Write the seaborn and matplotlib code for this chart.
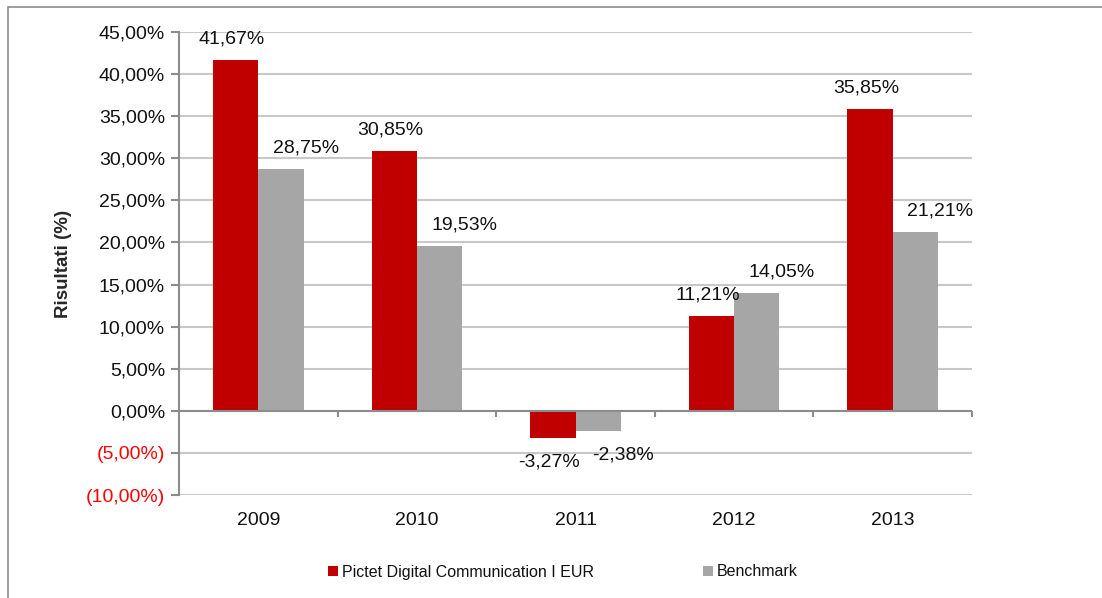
import matplotlib
matplotlib.use("Agg")
import matplotlib.pyplot as plt
import matplotlib.patches as mpatches
from matplotlib.ticker import FuncFormatter, MultipleLocator
import seaborn as sns
import pandas as pd

years = ["2009", "2010", "2011", "2012", "2013"]
fund_name = "Pictet Digital Communication I EUR"
bench_name = "Benchmark"
fund_values = [41.67, 30.85, -3.27, 11.21, 35.85]
bench_values = [28.75, 19.53, -2.38, 14.05, 21.21]

df = pd.DataFrame({
    "Anno": years * 2,
    "Serie": [fund_name] * len(years) + [bench_name] * len(years),
    "Valore": fund_values + bench_values,
})

sns.set_theme(style="white")
plt.rcParams["font.family"] = ["Liberation Sans", "DejaVu Sans"]

fig = plt.figure(figsize=(11.02, 5.98), dpi=100)
ax = fig.add_axes([179 / 1102, 1 - 495 / 598, (972 - 179) / 1102, (495 - 32) / 598])

palette = {fund_name: "#C00000", bench_name: "#A6A6A6"}
sns.barplot(data=df, x="Anno", y="Valore", hue="Serie", palette=palette,
            width=0.57, gap=0, saturation=1, ax=ax, legend=True, zorder=3,
            linewidth=0)

ax.set_ylim(-10, 45)
ax.set_xlim(-0.5, len(years) - 0.5)
ax.yaxis.set_major_locator(MultipleLocator(5))


def fmt(v, pos):
    s = f"{abs(v):.2f}".replace(".", ",") + "%"
    return f"({s})" if v < -1e-9 else s


FS = 14
ax.yaxis.set_major_formatter(FuncFormatter(fmt))
ax.grid(axis="y", color="#C8C8C8", linewidth=1.5, zorder=0)
ax.set_axisbelow(True)
for sp in ["top", "right", "bottom"]:
    ax.spines[sp].set_visible(False)
ax.spines["left"].set_color("#8C8C8C")
ax.spines["left"].set_linewidth(1.5)
ax.tick_params(axis="y", which="major", left=True, length=6, width=1.5,
               color="#8C8C8C", labelsize=FS, pad=4, labelcolor="#111111")
for lbl, v in zip(ax.get_yticklabels(), ax.get_yticks()):
    if v < 0:
        lbl.set_color("#FF0000")
ax.tick_params(axis="x", length=0, labelsize=FS, pad=12, labelcolor="#111111")
ax.set_xlabel("")
ax.set_ylabel("Risultati (%)", fontsize=13.5, fontweight="bold", labelpad=10)

# zero line with category separators
ax.axhline(0, color="#8C8C8C", linewidth=1.5, zorder=4)
ax.vlines([i + 0.5 for i in range(len(years))], -0.7, 0, color="#8C8C8C",
          linewidth=1.5, zorder=4, clip_on=False)

# value labels
for cont, dx in zip(ax.containers, [-3, 18]):
    for bar in cont:
        h = bar.get_height()
        cx = bar.get_x() + bar.get_width() / 2
        txt = f"{h:.2f}".replace(".", ",") + "%"
        if h >= 0:
            ax.annotate(txt, (cx, h), xytext=(dx, 9), textcoords="offset points",
                        ha="center", va="bottom", fontsize=FS, color="#111111")
        else:
            ax.annotate(txt, (cx, h), xytext=(dx, -11), textcoords="offset points",
                        ha="center", va="top", fontsize=FS, color="#111111")

leg = ax.legend(loc="center", bbox_to_anchor=(563 / 1102, 1 - 572 / 598),
                bbox_transform=fig.transFigure, ncol=2, frameon=False,
                fontsize=11.5, handlelength=0.65, handleheight=0.65,
                handletextpad=0.25, columnspacing=6.8)
for t in leg.get_texts():
    t.set_color("#111111")

fig.patches.append(mpatches.Rectangle((8 / 1102, -0.2), 1.5, 1.2 - 7 / 598,
                                      transform=fig.transFigure, fill=False,
                                      edgecolor="#8C8C8C", linewidth=1.2))

fig.savefig("out.png", dpi=100)
